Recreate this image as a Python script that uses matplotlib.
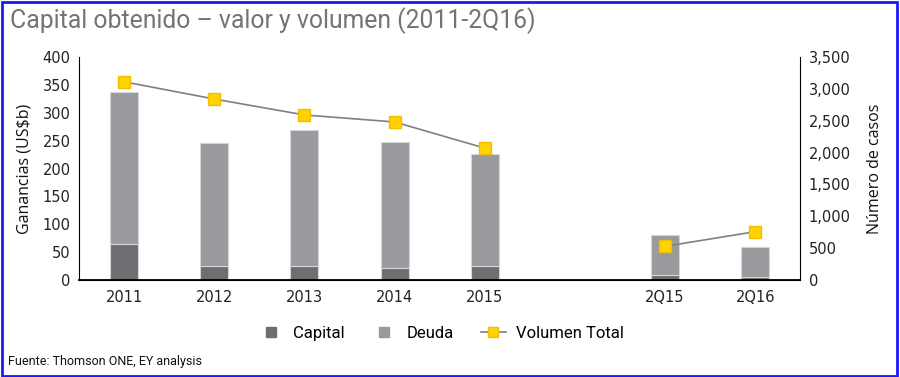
import numpy as np
import matplotlib.pyplot as plt
from matplotlib.lines import Line2D
from matplotlib.patches import Rectangle
from matplotlib.ticker import FuncFormatter, MultipleLocator

# Datos
categorias = ['2011', '2012', '2013', '2014', '2015', '2Q15', '2Q16']
posiciones = [0, 1, 2, 3, 4, 6, 7]   # hueco entre 2015 y 2Q15
capital = [65, 25, 25, 21, 26, 9, 6]
deuda = [272, 221, 244, 227, 200, 72, 53]
volumen = [3110, 2840, 2590, 2480, 2070, 530, 760]

c_capital = '#6d6e71'
c_deuda = '#999a9e'
c_amarillo = '#ffd200'
narrow = ['Roboto', 'DejaVu Sans']
plt.rcParams['font.family'] = ['DejaVu Sans']

fig = plt.figure(figsize=(9, 3.77), dpi=100)
ax = fig.add_axes([0.0878, 0.257, 0.8015, 0.592])
ax2 = ax.twinx()

x = np.array(posiciones)
ax.bar(x, capital, width=0.31, color=c_capital, edgecolor='#d6d6d8', linewidth=0.8)
ax.bar(x, deuda, width=0.31, bottom=capital, color=c_deuda, edgecolor='#d6d6d8', linewidth=0.8)

# linea de volumen en dos tramos
ax2.plot(x[:5], volumen[:5], color='#808080', lw=1.2, marker='s', ms=8,
         mfc=c_amarillo, mec='#f0c000')
ax2.plot(x[5:], volumen[5:], color='#808080', lw=1.2, marker='s', ms=8,
         mfc=c_amarillo, mec='#f0c000')

ax.set_xlim(-0.5, 7.5)
ax.set_ylim(0, 400)
ax2.set_ylim(0, 3500)
ax.yaxis.set_major_locator(MultipleLocator(50))
ax2.yaxis.set_major_locator(MultipleLocator(500))
ax2.yaxis.set_major_formatter(FuncFormatter(lambda v, p: f'{int(v):,}'))
ax.set_xticks(posiciones)
ax.set_xticklabels(categorias)

for a in (ax, ax2):
    a.spines['top'].set_visible(False)
    a.tick_params(length=0, labelsize=10.5, colors='#222222', pad=6)
ax.tick_params(axis='x', pad=7)
ax2.spines['left'].set_visible(False)
ax.spines['right'].set_visible(False)
ax.spines['bottom'].set_linewidth(1.3)

ax.set_ylabel('Ganancias (US$b)', fontsize=11.5, color='#111111', labelpad=7,
              family=['Open Sans', 'DejaVu Sans'])
ax2.set_ylabel('Número de casos', fontsize=11.5, color='#111111', labelpad=12,
               family=['Open Sans', 'DejaVu Sans'])

fig.text(0.011, 0.945, 'Capital obtenido – valor y volumen (2011-2Q16)',
         fontsize=17.8, color='#747474', family=narrow, va='center', ha='left')
fig.text(0.009, 0.04, 'Fuente: Thomson ONE, EY analysis',
         fontsize=9, color='#111111', family=narrow, va='center', ha='left')

handles = [
    Line2D([], [], ls='none', marker='s', ms=7, mfc=c_capital, mec=c_capital),
    Line2D([], [], ls='none', marker='s', ms=7, mfc=c_deuda, mec=c_deuda),
    Line2D([], [], color='#808080', lw=1.2, marker='s', ms=7, mfc=c_amarillo, mec='#f0c000'),
]
fig.legend(handles, ['Capital', 'Deuda', 'Volumen Total'], loc='center',
           bbox_to_anchor=(0.49, 0.115), ncol=3, frameon=False,
           prop={'family': narrow, 'size': 12},
           handlelength=1.5, columnspacing=1.6, handletextpad=0.6)

fig.patches.append(Rectangle((0.002, 0.003), 0.995, 0.993, transform=fig.transFigure,
                             fill=False, edgecolor='#1a1aff', linewidth=2))

fig.savefig('out.png', dpi=100)
